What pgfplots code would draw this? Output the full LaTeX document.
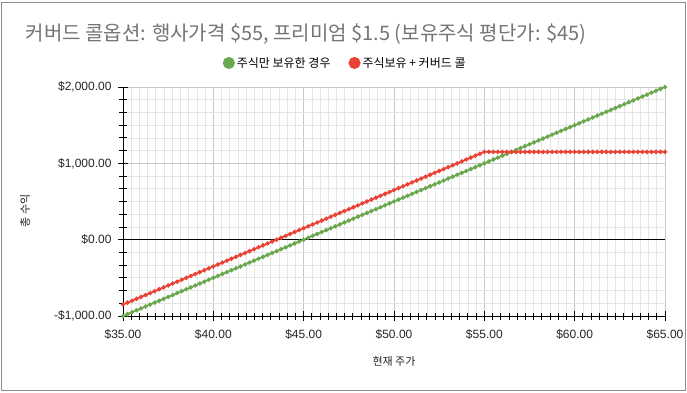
\documentclass[border=0pt]{standalone}
\usepackage{pgfplots}
\pgfplotsset{compat=1.18}
\usepackage{pgfplotstable}
\usepackage{fontspec}
\setmainfont{Liberation Sans}
\newfontfamily\kr{Noto Sans CJK KR}
\definecolor{sgreen}{HTML}{6AA84F}
\definecolor{sred}{HTML}{EA4335}
\definecolor{titlegray}{HTML}{757575}

\pgfplotstableread{
x s c
35 -1000 -850
35.25 -975 -825
35.5 -950 -800
35.75 -925 -775
36 -900 -750
36.25 -875 -725
36.5 -850 -700
36.75 -825 -675
37 -800 -650
37.25 -775 -625
37.5 -750 -600
37.75 -725 -575
38 -700 -550
38.25 -675 -525
38.5 -650 -500
38.75 -625 -475
39 -600 -450
39.25 -575 -425
39.5 -550 -400
39.75 -525 -375
40 -500 -350
40.25 -475 -325
40.5 -450 -300
40.75 -425 -275
41 -400 -250
41.25 -375 -225
41.5 -350 -200
41.75 -325 -175
42 -300 -150
42.25 -275 -125
42.5 -250 -100
42.75 -225 -75
43 -200 -50
43.25 -175 -25
43.5 -150 0
43.75 -125 25
44 -100 50
44.25 -75 75
44.5 -50 100
44.75 -25 125
45 0 150
45.25 25 175
45.5 50 200
45.75 75 225
46 100 250
46.25 125 275
46.5 150 300
46.75 175 325
47 200 350
47.25 225 375
47.5 250 400
47.75 275 425
48 300 450
48.25 325 475
48.5 350 500
48.75 375 525
49 400 550
49.25 425 575
49.5 450 600
49.75 475 625
50 500 650
50.25 525 675
50.5 550 700
50.75 575 725
51 600 750
51.25 625 775
51.5 650 800
51.75 675 825
52 700 850
52.25 725 875
52.5 750 900
52.75 775 925
53 800 950
53.25 825 975
53.5 850 1000
53.75 875 1025
54 900 1050
54.25 925 1075
54.5 950 1100
54.75 975 1125
55 1000 1150
55.25 1025 1150
55.5 1050 1150
55.75 1075 1150
56 1100 1150
56.25 1125 1150
56.5 1150 1150
56.75 1175 1150
57 1200 1150
57.25 1225 1150
57.5 1250 1150
57.75 1275 1150
58 1300 1150
58.25 1325 1150
58.5 1350 1150
58.75 1375 1150
59 1400 1150
59.25 1425 1150
59.5 1450 1150
59.75 1475 1150
60 1500 1150
60.25 1525 1150
60.5 1550 1150
60.75 1575 1150
61 1600 1150
61.25 1625 1150
61.5 1650 1150
61.75 1675 1150
62 1700 1150
62.25 1725 1150
62.5 1750 1150
62.75 1775 1150
63 1800 1150
63.25 1825 1150
63.5 1850 1150
63.75 1875 1150
64 1900 1150
64.25 1925 1150
64.5 1950 1150
64.75 1975 1150
65 2000 1150
}\datatable

\begin{document}
\begin{tikzpicture}
\useasboundingbox (-123pt,-76pt) rectangle (564pt,316pt);
\fill[white] (-123pt,-76pt) rectangle (564pt,316pt);
\draw[black!45, line width=1pt] (-121pt,-74pt) rectangle (562pt,314pt);
\begin{axis}[
  at={(0,0)}, anchor=south west, scale only axis,
  width=542pt, height=229pt,
  xmin=35, xmax=65, ymin=-1000, ymax=2000,
  xtick={35,40,45,50,55,60,65},
  xticklabels={\$35.00,\$40.00,\$45.00,\$50.00,\$55.00,\$60.00,\$65.00},
  ytick={-1000,0,1000,2000},
  yticklabels={{-\$1,000.00},{\$0.00},{\$1,000.00},{\$2,000.00}},
  minor x tick num=10, minor y tick num=5,
  grid=both,
  major grid style={color=black!22, line width=0.7pt},
  minor grid style={color=black!10, line width=0.7pt},
  axis x line*=bottom, axis y line*=left,
  axis line style={black, line width=0.9pt},
  tick align=center, major tick length=10pt, minor tick length=7pt,
  tick style={black, line width=0.9pt},
  ticklabel style={font=\fontsize{12}{14}\selectfont, text=black!85},
  xticklabel style={yshift=-5pt},
  yticklabel style={xshift=-3pt},
  title={커버드 콜옵션: 행사가격 \$55, 프리미엄 \$1.5 (보유주식 평단가: \$45)},
  title style={at={(axis description cs:-0.186,1.205)}, anchor=west,
    font=\kr\fontsize{20}{24}\selectfont, text=titlegray},
  xlabel={현재 주가},
  xlabel style={at={(axis description cs:0.5,-0.2)}, anchor=center,
    font=\kr\fontsize{11}{13}\selectfont, text=black!85},
  ylabel={총 수익},
  ylabel style={at={(axis description cs:-0.181,0.46)}, anchor=center,
    font=\kr\fontsize{11}{13}\selectfont, text=black!85},
  legend columns=2,
  legend style={at={(axis description cs:0.41,1.105)}, anchor=center,
    draw=none, fill=none, font=\kr\fontsize{12}{14}\selectfont,
    /tikz/every even column/.append style={column sep=16pt}},
  legend image code/.code={\fill[#1] (0.15cm,0) circle (5.2pt);},
]
\addplot[black, line width=0.9pt, forget plot] coordinates {(35,0) (65,0)};
\addplot[sgreen, line width=1.6pt, mark=*, mark size=1.3pt] table[x=x,y=s]{\datatable};
\addlegendentry{주식만 보유한 경우}
\addplot[sred, line width=1.6pt, mark=*, mark size=1.3pt] table[x=x,y=c]{\datatable};
\addlegendentry{주식보유 + 커버드 콜}
\end{axis}
\end{tikzpicture}
\end{document}
